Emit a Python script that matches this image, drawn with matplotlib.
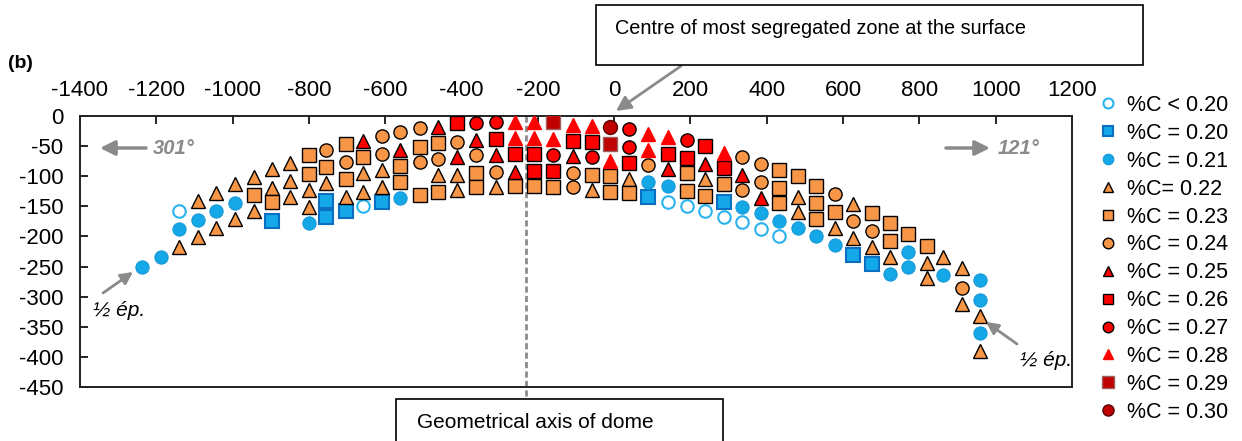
import matplotlib
matplotlib.use('Agg')
import matplotlib.pyplot as plt
from matplotlib.patches import Rectangle

plt.rcParams['font.family'] = ['Liberation Sans', 'DejaVu Sans']
plt.rcParams['axes.unicode_minus'] = False

# ---------------- data (x = distance, y = depth) ----------------
labels = ['%C < 0.20', '%C = 0.20', '%C = 0.21', '%C= 0.22', '%C = 0.23', '%C = 0.24',
          '%C = 0.25', '%C = 0.26', '%C = 0.27', '%C = 0.28', '%C = 0.29', '%C = 0.30']

x_lt020 = [-1140, -657, 140, 190, 237, 287, 334, 384, 431]
y_lt020 = [-158, -150, -143, -150, -158, -168, -176, -188, -199]

x_020 = [-898, -754, -754, -704, -608, 90, 287, 627, 675]
y_020 = [-174, -141, -168, -158, -143, -135, -143, -231, -246]

x_021 = [-1237, -1189, -1140, -1092, -1043, -995, -801, -560, 90, 140, 334, 384, 431,
         481, 530, 580, 722, 769, 769, 863, 958, 958, 958]
y_021 = [-251, -234, -188, -173, -158, -145, -178, -136, -110, -116, -151, -161, -174,
         -186, -199, -214, -262, -226, -251, -264, -272, -305, -360]

x_022 = [-1140, -1092, -1092, -1043, -1043, -995, -995, -945, -945, -898, -898, -849, -849,
         -849, -801, -801, -754, -704, -657, -657, -608, -608,
         -461, -411, -411, -309, -59, 40, 237,
         481, 481, 580, 627, 627, 675, 722, 819, 819, 863, 911, 911, 958, 958]
y_022 = [-218, -141, -201, -128, -186, -113, -171, -101, -158, -88, -120, -78, -108,
         -135, -123, -151, -111, -135, -95, -126, -90, -118,
         -98, -98, -123, -118, -123, -105, -105,
         -135, -159, -186, -146, -203, -218, -234, -244, -269, -234, -252, -312, -332, -390]

x_023 = [-945, -898, -801, -801, -754, -704, -704, -657, -560, -560, -510, -510,
         -461, -461, -361, -361, -259, -209, -159, -59, -10, -10, 40, 190, 190, 237, 287,
         431, 431, 431, 481, 530, 530, 530, 580, 675, 722, 722, 769, 819]
y_023 = [-131, -143, -65, -96, -85, -47, -105, -68, -83, -110, -51, -131,
         -45, -126, -95, -118, -116, -116, -118, -98, -100, -126, -128, -95, -125, -133, -113,
         -90, -120, -145, -100, -116, -145, -171, -159, -161, -178, -208, -196, -216]

x_024 = [-754, -704, -608, -608, -560, -510, -510, -461, -411, -361, -309, -109, -109,
         90, 334, 334, 384, 384, 580, 627, 675, 911]
y_024 = [-56, -76, -33, -63, -27, -20, -76, -71, -43, -65, -93, -95, -118,
         -81, -68, -123, -80, -110, -130, -174, -191, -286]

x_025 = [-657, -560, -461, -411, -361, -309, -259, -109, 140, 237, 334, 384]
y_025 = [-42, -56, -18, -68, -40, -65, -93, -66, -88, -80, -98, -136]

x_026 = [-411, -309, -259, -209, -209, -159, -109, -59, 40, 140, 190, 237, 287]
y_026 = [-12, -38, -63, -63, -91, -91, -42, -43, -78, -63, -70, -50, -86]

x_027 = [-361, -309, -159, -59, 40, 40, 190]
y_027 = [-12, -10, -65, -68, -22, -51, -40]

x_028 = [-259, -259, -209, -209, -159, -109, -59, -10, 90, 90, 140, 287]
y_028 = [-10, -37, -10, -37, -38, -15, -17, -75, -30, -56, -35, -61]

x_029 = [-159, -10]
y_029 = [-10, -47]

x_030 = [-10]
y_030 = [-18]

xs = [x_lt020, x_020, x_021, x_022, x_023, x_024, x_025, x_026, x_027, x_028, x_029, x_030]
ys = [y_lt020, y_020, y_021, y_022, y_023, y_024, y_025, y_026, y_027, y_028, y_029, y_030]

x_ticks = list(range(-1400, 1201, 200))
y_ticks = list(range(0, -451, -50))

# ---------------- styles ----------------
ORANGE = '#F79646'
BLUE = '#14A8E8'
styles = [
    dict(marker='o', ms=9.0, mfc='white', mec='#2AB3EE', mew=1.5),
    dict(marker='s', ms=9.5, mfc=BLUE, mec='#0A6FC0', mew=1.5),
    dict(marker='o', ms=9.5, mfc=BLUE, mec='#1598D6', mew=0.8),
    dict(marker='^', ms=9.5, mfc=ORANGE, mec='black', mew=1.0),
    dict(marker='s', ms=9.5, mfc=ORANGE, mec='black', mew=1.0),
    dict(marker='o', ms=9.5, mfc=ORANGE, mec='black', mew=1.0),
    dict(marker='^', ms=9.5, mfc='#FF0000', mec='black', mew=1.0),
    dict(marker='s', ms=9.5, mfc='#FF0000', mec='black', mew=1.0),
    dict(marker='o', ms=9.5, mfc='#FF0000', mec='black', mew=1.0),
    dict(marker='^', ms=9.5, mfc='#FF0000', mec='#FF0000', mew=1.0),
    dict(marker='s', ms=10.0, mfc='#C00000', mec='#A06060', mew=1.0),
    dict(marker='o', ms=10.0, mfc='#C00000', mec='#5A0000', mew=1.0),
]

fig = plt.figure(figsize=(12.42, 4.41), dpi=100)
W, H = 1242.0, 441.0
ax = fig.add_axes([80 / W, 1 - 387 / H, (1072 - 80) / W, (387 - 116) / H])

handles = []
for x, y, st, lab in zip(xs, ys, styles, labels):
    h, = ax.plot(x, y, ls='none', label=lab, zorder=3, **st)
    handles.append(h)

ax.set_xlim(-1400, 1200)
ax.set_ylim(-450, 0)
ax.xaxis.tick_top()
ax.set_xticks(x_ticks)
ax.set_xticklabels([str(v) for v in x_ticks])
ax.set_yticks(y_ticks)
ax.set_yticklabels([str(v) for v in y_ticks])
ax.tick_params(axis='both', direction='in', length=6, width=1.2, labelsize=16,
               colors='black')
ax.tick_params(axis='x', pad=11)
ax.tick_params(axis='y', pad=12)
for sp in ax.spines.values():
    sp.set_linewidth(1.4)
    sp.set_color('#222222')

# geometrical axis of dome (dashed line extending below the plot)
ax.plot([-231, -231], [0, -470], ls=(0, (2.2, 1.2)), color='#8C8C8C', lw=2,
        clip_on=False, zorder=2)

# legend
leg = ax.legend(handles=handles, loc='upper left', bbox_to_anchor=(1097 / W, 1 - 95 / H),
                bbox_transform=fig.transFigure, frameon=False, fontsize=15.5,
                handlelength=1.0, handletextpad=0.4, labelspacing=0.32,
                borderpad=0, borderaxespad=0, markerscale=0.8)

def fx(px):
    return px / W

def fy(py):
    return 1 - py / H

# "(b)"
fig.text(fx(8), fy(63), '(b)', fontsize=14, fontweight='bold', va='center', ha='left')

# Box: Centre of most segregated zone
fig.add_artist(Rectangle((fx(596), fy(65)), fx(1143) - fx(596), fy(5) - fy(65),
                         transform=fig.transFigure, fill=False, ec='black', lw=1.2))
fig.text(fx(615), fy(28), 'Centre of most segregated zone at the surface', fontsize=14.3,
         va='center', ha='left')
ax.annotate('', xy=(fx(616), fy(111)), xycoords='figure fraction',
            xytext=(fx(681), fy(66)), textcoords='figure fraction',
            arrowprops=dict(arrowstyle='-|>', color='#8A8A8A', lw=2, mutation_scale=22,
                            shrinkA=0, shrinkB=0), annotation_clip=False)

# Box: Geometrical axis of dome
fig.add_artist(Rectangle((fx(396), fy(445)), fx(723) - fx(396), fy(399) - fy(445),
                         transform=fig.transFigure, fill=False, ec='black', lw=1.2,
                         clip_on=False))
fig.text(fx(417), fy(423), 'Geometrical axis of dome', fontsize=15, va='center', ha='left')

# direction arrows
gray = '#8A8A8A'
ax.annotate('', xy=(fx(100), fy(148)), xycoords='figure fraction',
            xytext=(fx(146), fy(148)), textcoords='figure fraction',
            arrowprops=dict(arrowstyle='-|>', color=gray, lw=2.5, mutation_scale=22,
                            shrinkA=0, shrinkB=0))
fig.text(fx(153), fy(148), '301°', fontsize=14.5, fontweight='bold', fontstyle='italic',
         color=gray, va='center', ha='left')
ax.annotate('', xy=(fx(990), fy(148)), xycoords='figure fraction',
            xytext=(fx(946), fy(148)), textcoords='figure fraction',
            arrowprops=dict(arrowstyle='-|>', color=gray, lw=2.5, mutation_scale=22,
                            shrinkA=0, shrinkB=0))
fig.text(fx(998), fy(148), '121°', fontsize=14.5, fontweight='bold', fontstyle='italic',
         color=gray, va='center', ha='left')

# half thickness labels
fig.text(fx(93), fy(310), '½ ép.', fontsize=15, fontstyle='italic', va='center', ha='left')
ax.annotate('', xy=(fx(133), fy(272)), xycoords='figure fraction',
            xytext=(fx(103), fy(293)), textcoords='figure fraction',
            arrowprops=dict(arrowstyle='-|>', color=gray, lw=2, mutation_scale=18,
                            shrinkA=0, shrinkB=0))
fig.text(fx(1020), fy(360), '½ ép.', fontsize=15, fontstyle='italic', va='center', ha='left')
ax.annotate('', xy=(fx(986), fy(322)), xycoords='figure fraction',
            xytext=(fx(1017), fy(344)), textcoords='figure fraction',
            arrowprops=dict(arrowstyle='-|>', color=gray, lw=2, mutation_scale=18,
                            shrinkA=0, shrinkB=0))

fig.savefig('out.png', dpi=100)
